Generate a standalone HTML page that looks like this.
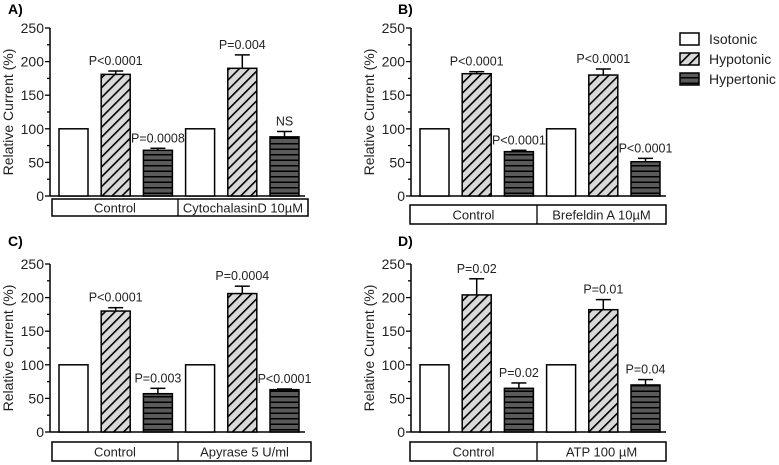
<!DOCTYPE html>
<html><head><meta charset="utf-8">
<style>
body{margin:0;background:#fff;}
svg{display:block;font-family:"Liberation Sans",Arial,sans-serif;}
</style></head>
<body>
<svg id="chart" width="779" height="465" viewBox="0 0 779 465">
<defs>
<pattern id="hypo" patternUnits="userSpaceOnUse" width="7" height="7" patternTransform="rotate(45)">
<rect width="7" height="7" fill="#d9d9d9"/><rect width="1.6" height="7" fill="#000"/>
</pattern>
<pattern id="hyper" patternUnits="userSpaceOnUse" width="10" height="5.5">
<rect width="10" height="5.5" fill="#5a5a5a"/><rect width="10" height="1.5" fill="#000"/>
</pattern>
</defs>
<g>
<g><rect x="680" y="33" width="19" height="12" fill="#fff" stroke="#000" stroke-width="1.5"/><text x="709" y="44" font-size="14" fill="#222">Isotonic</text></g>
<g><rect x="680" y="53" width="19" height="12" fill="url(#hypo)" stroke="#000" stroke-width="1.5"/><text x="709" y="64" font-size="14" fill="#222">Hypotonic</text></g>
<g><rect x="680" y="73" width="19" height="12" fill="url(#hyper)" stroke="#000" stroke-width="1.5"/><text x="709" y="84" font-size="14" fill="#222">Hypertonic</text></g>
</g>
</svg>
<script>
const panelNames=["A)","B)","C)","D)"];
const groupLabels=[["Control","CytochalasinD 10µM"],["Control","Brefeldin A 10µM"],["Control","Apyrase 5 U/ml"],["Control","ATP 100 µM"]];
const isoValues=[[100,100],[100,100],[100,100],[100,100]];
const hypoValues=[[181,190],[182,180],[180,206],[204,182]];
const hyperValues=[[68,88],[66,51],[57,63],[65,70]];
const isoErr=[[0,0],[0,0],[0,0],[0,0]];
const hypoErr=[[5,20],[3,9],[5,11],[24,15]];
const hyperErr=[[3,8],[2,5],[8,1],[8,8]];
const hypoP=[["P<0.0001","P=0.004"],["P<0.0001","P<0.0001"],["P<0.0001","P=0.0004"],["P=0.02","P=0.01"]];
const hyperP=[["P=0.0008","NS"],["P<0.0001","P<0.0001"],["P=0.003","P<0.0001"],["P=0.02","P=0.04"]];
const yTicks=[0,50,100,150,200,250];

const NS="http://www.w3.org/2000/svg";
const svg=document.getElementById('chart');
function mk(tag,attrs,parent){const e=document.createElementNS(NS,tag);for(const k in attrs)e.setAttribute(k,attrs[k]);(parent||svg).appendChild(e);return e;}
const layout=[
 {ax:50,y0:196,boxT:199,boxB:216,boxL:52,boxR:308,div:178,lx:8,ly:14},
 {ax:411,y0:196,boxT:205,boxB:224,boxL:410,boxR:666,div:537,lx:398,ly:14},
 {ax:50,y0:432,boxT:442,boxB:461,boxL:52,boxR:311,div:178,lx:8,ly:246},
 {ax:411,y0:432,boxT:442,boxB:461,boxL:410,boxR:666,div:537,lx:398,ly:246}
];
const pxPerUnit=168/250;
const panelIds=["a","b","c","d"];
layout.forEach((L,p)=>{
 const g=mk('g',{});
 
 
 const y=v=>L.y0-v*pxPerUnit;
 const t=mk('text',{x:L.lx,y:L.ly,'font-size':14,'font-weight':'bold'},g);t.textContent=panelNames[p];
 
 
 const yt=mk('text',{transform:`translate(${L.ax-37},${L.y0-84}) rotate(-90)`,'text-anchor':'middle','font-size':14,fill:'#222'},g);
 yt.textContent="Relative Current (%)";
 
 
 const axis=mk('g',{},g);
 
 
 mk('line',{x1:L.ax,x2:L.ax,y1:y(250),y2:L.y0,stroke:'#000','stroke-width':1.5},axis);
 for(let v=0;v<=250;v+=25){mk('line',{x1:L.ax-(v%50?3:5),x2:L.ax,y1:y(v),y2:y(v),stroke:'#000','stroke-width':1.3},axis);}
 yTicks.forEach(v=>{const tl=mk('text',{x:L.ax-6,y:y(v)+5,'text-anchor':'end','font-size':14,fill:'#222'},axis);tl.textContent=v;
  
  });
 const xa=mk('line',{x1:L.ax,x2:L.ax+255,y1:L.y0,y2:L.y0,stroke:'#000','stroke-width':1.5},g);
 
 
 const series=[[isoValues,isoErr,'#fff',null,'isotonic'],[hypoValues,hypoErr,'url(#hypo)',hypoP,'hypotonic'],[hyperValues,hyperErr,'url(#hyper)',hyperP,'hypertonic']];
 for(let grp=0;grp<2;grp++){
  series.forEach((s,si)=>{
   const v=s[0][p][grp],e=s[1][p][grp];
   const x=L.ax+9+(grp*3+si)*42.2;
   const b=mk('rect',{x:x,y:y(v),width:29,height:v*pxPerUnit,fill:s[2],stroke:'#000','stroke-width':1.5},g);
   
   
   if(e>0){
    const eg=mk('g',{stroke:'#000','stroke-width':1.5},g);
    
    
    mk('line',{x1:x+14.5,x2:x+14.5,y1:y(v),y2:y(v+e)},eg);
    mk('line',{x1:x+7,x2:x+22,y1:y(v+e),y2:y(v+e)},eg);
   }
   if(s[3]){
    const pl=mk('text',{x:x+14.5,y:y(v+e)-6,'text-anchor':'middle','font-size':12.5,fill:'#222'},g);
    pl.textContent=s[3][p][grp];
    
    
   }
  });
 }
 const box=mk('g',{},g);
 
 
 mk('rect',{x:L.boxL,y:L.boxT,width:L.boxR-L.boxL,height:L.boxB-L.boxT,fill:'#fff',stroke:'#000','stroke-width':1.5},box);
 mk('line',{x1:L.div,x2:L.div,y1:L.boxT,y2:L.boxB,stroke:'#000','stroke-width':1.3},box);
 [[L.boxL,L.div],[L.div,L.boxR]].forEach((r,i)=>{
  const gl=mk('text',{x:(r[0]+r[1])/2,y:(L.boxT+L.boxB)/2+5,'text-anchor':'middle','font-size':13,fill:'#222'},box);
  gl.textContent=groupLabels[p][i];
  
  
 });
});
</script>
</body></html>
